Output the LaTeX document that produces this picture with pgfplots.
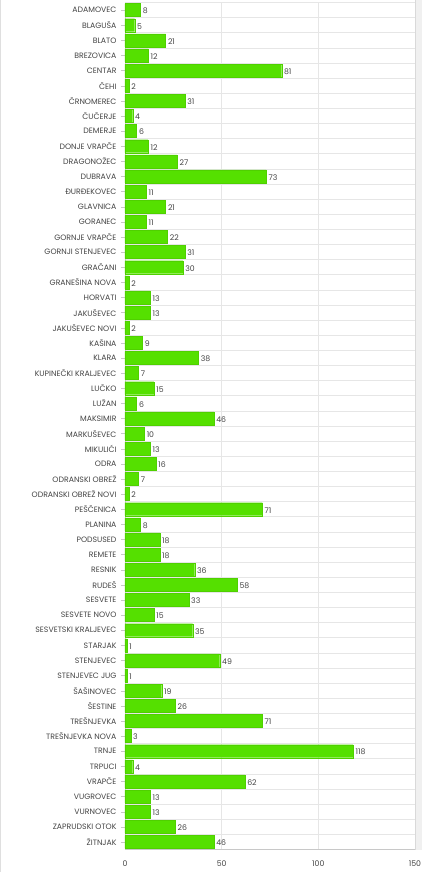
\documentclass[border=0pt]{standalone}
\usepackage{fontspec}
\setmainfont{Poppins}
\usepackage{pgfplots}
\pgfplotsset{compat=1.18}

\definecolor{bargreen}{HTML}{55E000}
\definecolor{labgray}{HTML}{444444}
\definecolor{gridgray}{HTML}{E6E6E6}
\definecolor{axgray}{HTML}{C8C8C8}

\begin{document}
\begin{tikzpicture}
\useasboundingbox (-125bp,-22.5bp) rectangle (297bp,849.5bp);
\begin{axis}[
    at={(0,0)}, anchor=south west,
    scale only axis,
    width=290bp, height=847bp,
    xbar, bar width=0.86, bar shift=0pt,
    y dir=reverse,
    xmin=0, xmax=150,
    ymin=-0.5, ymax=55.5,
    axis lines=left,
    axis line style={-, axgray, line width=0.8pt},
    xtick={0,50,100,150},
    xmajorgrids, major grid style={gridgray, line width=0.6pt},
    ytick={0,...,55},
    minor ytick={-0.5,0.5,...,55.5},
    yminorgrids, minor grid style={gridgray, line width=0.6pt},
    yticklabels={ADAMOVEC,BLAGUŠA,BLATO,BREZOVICA,CENTAR,ČEHI,ČRNOMEREC,ČUČERJE,DEMERJE,DONJE VRAPČE,DRAGONOŽEC,DUBRAVA,ĐURĐEKOVEC,GLAVNICA,GORANEC,GORNJE VRAPČE,GORNJI STENJEVEC,GRAČANI,GRANEŠINA NOVA,HORVATI,JAKUŠEVEC,JAKUŠEVEC NOVI,KAŠINA,KLARA,KUPINEČKI KRALJEVEC,LUČKO,LUŽAN,MAKSIMIR,MARKUŠEVEC,MIKULIĆI,ODRA,ODRANSKI OBREŽ,ODRANSKI OBREŽ NOVI,PEŠČENICA,PLANINA,PODSUSED,REMETE,RESNIK,RUDEŠ,SESVETE,SESVETE NOVO,SESVETSKI KRALJEVEC,STARJAK,STENJEVEC,STENJEVEC JUG,ŠAŠINOVEC,ŠESTINE,TREŠNJEVKA,TREŠNJEVKA NOVA,TRNJE,TRPUCI,VRAPČE,VUGROVEC,VURNOVEC,ZAPRUDSKI OTOK,ŽITNJAK},
    tick align=outside,
    major tick length=4bp, minor tick length=0pt,
    tick style={axgray},
    x tick style={draw=none},
    ticklabel style={font=\fontsize{7.8}{9}\selectfont, text=labgray},
    yticklabel style={xshift=-1bp},
    xticklabel style={yshift=-4bp},
    /pgf/number format/assume math mode=true,
    clip=false,
    nodes near coords,
    every node near coord/.append style={font=\fontsize{7.8}{9}\selectfont, text=labgray, anchor=west, xshift=-1bp, yshift=-1bp},
]
\addplot[fill=bargreen, draw=bargreen!93!black, line width=0.2pt] coordinates {
(8,0) (5,1) (21,2) (12,3) (81,4) (2,5) (31,6) (4,7) (6,8) (12,9)
(27,10) (73,11) (11,12) (21,13) (11,14) (22,15) (31,16) (30,17) (2,18) (13,19)
(13,20) (2,21) (9,22) (38,23) (7,24) (15,25) (6,26) (46,27) (10,28) (13,29)
(16,30) (7,31) (2,32) (71,33) (8,34) (18,35) (18,36) (36,37) (58,38) (33,39)
(15,40) (35,41) (1,42) (49,43) (1,44) (19,45) (26,46) (71,47) (3,48) (118,49)
(4,50) (62,51) (13,52) (13,53) (26,54) (46,55)
};
\end{axis}
\fill[gray!12] (290bp,0bp) rectangle (297bp,849.5bp);
\draw[gray!30, line width=0.5pt] (290bp,0bp) -- (290bp,849.5bp);
\draw[gray!25, line width=0.8pt] (-124.5bp,-22.5bp) -- (-124.5bp,849.5bp);
\end{tikzpicture}
\end{document}
